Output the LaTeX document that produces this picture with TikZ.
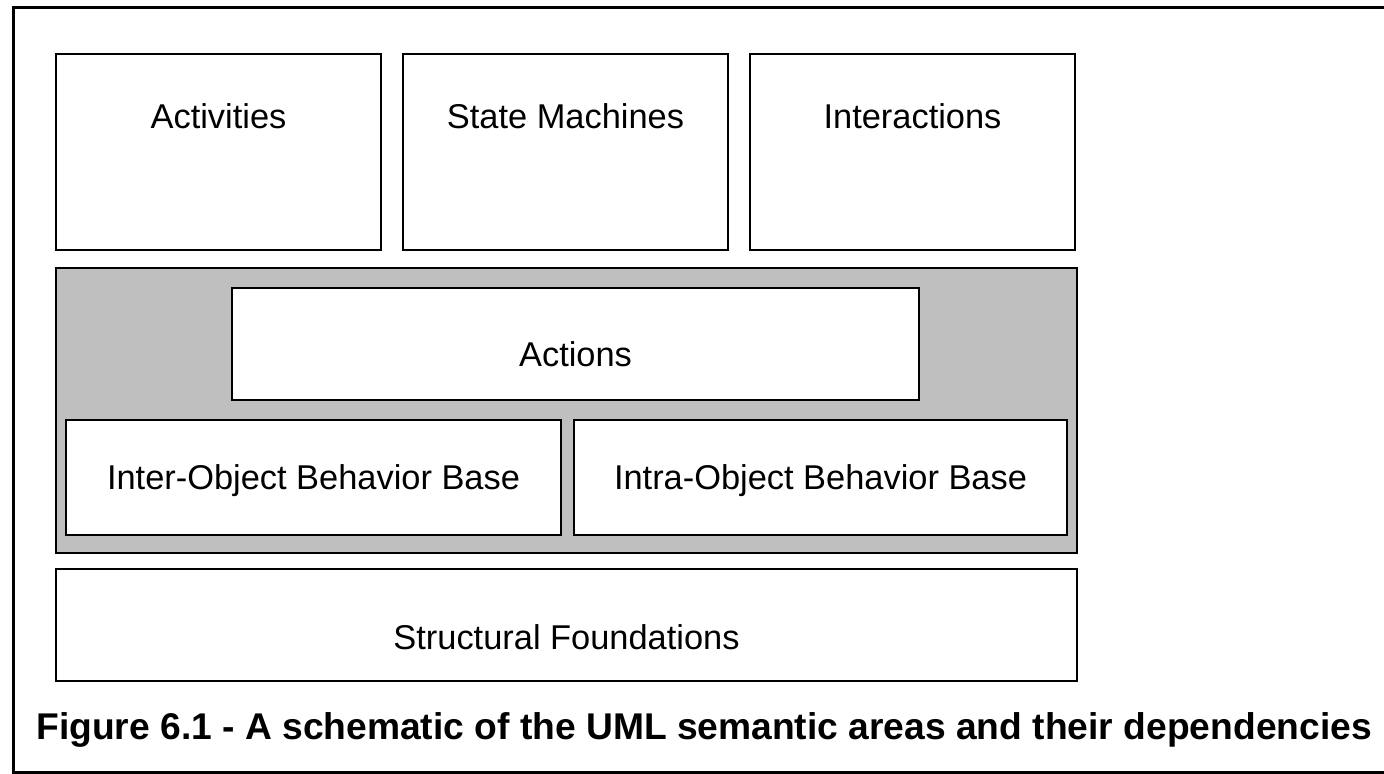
\documentclass[tikz,border=0pt]{standalone}
\usepackage{fontspec}
\setmainfont{Liberation Sans}
\usetikzlibrary{positioning}

\begin{document}
\begin{tikzpicture}[x=0.5pt,y=-0.5pt,
    area/.style={draw,line width=1pt,fill=white,minimum width=162.5pt,minimum height=98pt,inner sep=0pt},
    bar/.style={draw,line width=1pt,fill=white,minimum height=56pt,inner sep=0pt},
    lbl/.style={font=\fontsize{17.2}{21}\selectfont,anchor=base,inner sep=0pt},
    caption/.style={font=\bfseries\fontsize{18.6}{22}\selectfont,anchor=base west,inner sep=0pt}]
  \useasboundingbox (0,0) rectangle (1384,774);
  \draw[line width=1.5pt] (1384,8) -- (13,8) -- (13,772) -- (1384,772);
  % behaviour areas on top
  \node[area,anchor=north west] (act) at (55,53) {};
  \node[area,right=10pt of act] (sm) {};
  \node[area,right=10pt of sm] (inter) {};
  \node[lbl] (actl) at ([yshift=-38pt]act.north) {Activities};
  \node[lbl] (sml) at ([yshift=-38pt]sm.north) {State Machines};
  \node[lbl] (interl) at ([yshift=-38pt]inter.north) {Interactions};
  % shared behaviour
  \node[draw,line width=1pt,fill=black!25,minimum width=510.5pt,minimum height=142.5pt,anchor=north west] (base) at (55,267) {};
  \node[bar,minimum width=343.5pt,anchor=north] (acts) at (575.5,287) {};
  \node[lbl] (actsl) at ([yshift=-40pt]acts.north) {Actions};
  \node[bar,minimum width=247.5pt,minimum height=57.5pt,anchor=north west] (interob) at (65,419) {};
  \node[bar,minimum width=246.5pt,minimum height=57.5pt,right=5.5pt of interob] (intraob) {};
  \node[lbl] (interobl) at ([yshift=-35pt]interob.north) {Inter-Object Behavior Base};
  \node[lbl] (intraobl) at ([yshift=-35pt]intraob.north) {Intra-Object Behavior Base};
  % foundations
  \node[bar,minimum width=510.5pt,anchor=north west] (struct) at (55,568) {};
  \node[lbl] (structl) at ([yshift=-40.5pt]struct.north) {Structural Foundations};
  \node[caption] (cap) at (36,739) {Figure 6.1 - A schematic of the UML semantic areas and their dependencies};
\end{tikzpicture}
\end{document}
